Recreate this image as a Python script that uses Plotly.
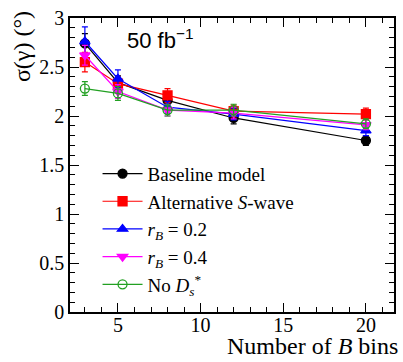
import plotly.graph_objects as go

bins = [3, 5, 8, 12, 20]

baseline = [2.74, 2.34, 2.16, 1.98, 1.75]
baseline_err = [0.10, 0.07, 0.06, 0.06, 0.05]
swave = [2.55, 2.33, 2.21, 2.05, 2.02]
swave_err = [0.10, 0.07, 0.07, 0.06, 0.06]
rb02 = [2.76, 2.38, 2.09, 2.02, 1.85]
rb02_err = [0.15, 0.09, 0.06, 0.06, 0.05]
rb04 = [2.62, 2.25, 2.06, 2.03, 1.91]
rb04_err = [0.10, 0.07, 0.06, 0.06, 0.05]
nods = [2.28, 2.23, 2.06, 2.06, 1.92]
nods_err = [0.07, 0.07, 0.06, 0.06, 0.05]

series = [
    ("Baseline model", baseline, baseline_err, "black", "circle"),
    ("Alternative <i>S</i>-wave", swave, swave_err, "#ff0000", "square"),
    ("<i>r<sub>B</sub></i> = 0.2", rb02, rb02_err, "#0000ff", "triangle-up"),
    ("<i>r<sub>B</sub></i> = 0.4", rb04, rb04_err, "#ff00ff", "triangle-down"),
    ("No <i>D</i><sub><i>s</i></sub><sup>*</sup>", nods, nods_err, "#22a022", "circle-open"),
]

fig = go.Figure()
for name, vals, errs, col, sym in series:
    fig.add_trace(go.Scatter(
        x=bins, y=vals, name=name, mode="lines+markers",
        line=dict(color=col, width=1.2),
        marker=dict(color=col, symbol=sym, size=9,
                    line=dict(color=col, width=1.3)),
        error_y=dict(type="data", array=errs, color=col, thickness=1.2, width=3),
    ))

serif = "Liberation Serif"
axis_common = dict(
    showline=True, linecolor="black", linewidth=1.5, mirror="ticks",
    ticks="inside", ticklen=9, tickwidth=1, tickcolor="black",
    showgrid=False, zeroline=False,
    tickfont=dict(family=serif, size=20, color="black"),
)

fig.update_layout(
    width=403, height=362,
    margin=dict(l=70, r=7, t=15, b=50),
    paper_bgcolor="white", plot_bgcolor="white",
    font=dict(family=serif, color="black"),
    showlegend=True,
    legend=dict(x=0.085, y=0.535, xanchor="left", yanchor="top",
                bgcolor="rgba(0,0,0,0)",
                font=dict(family=serif, size=19, color="black"),
                tracegroupgap=0, itemwidth=40),
    xaxis=dict(range=[2.1, 21.7], tickvals=[5, 10, 15, 20],
               ticklabelstandoff=-6,
               minor=dict(ticks="inside", ticklen=5, dtick=1, tick0=0, tickcolor="black"),
               **axis_common),
    yaxis=dict(range=[0, 3], dtick=0.5,
               minor=dict(ticks="inside", ticklen=5, dtick=0.1, tickcolor="black"),
               **axis_common),
    annotations=[
        dict(text="50 fb<sup>−1</sup>", xref="paper", yref="paper",
             x=0.17, y=0.93, xanchor="left", yanchor="middle", showarrow=False,
             font=dict(family="Liberation Sans", size=22, color="black")),
        dict(text="Number of <i>B</i> bins", xref="paper", yref="paper",
             x=1.02, y=-0.166, xanchor="right", yanchor="bottom", showarrow=False,
             font=dict(family=serif, size=24, color="black")),
        dict(text="σ(γ) (°)", xref="paper", yref="paper",
             x=-0.15, y=1.03, xanchor="center", yanchor="top", showarrow=False,
             textangle=-90,
             font=dict(family=serif, size=24, color="black")),
    ],
)

fig.write_html("out.html")
